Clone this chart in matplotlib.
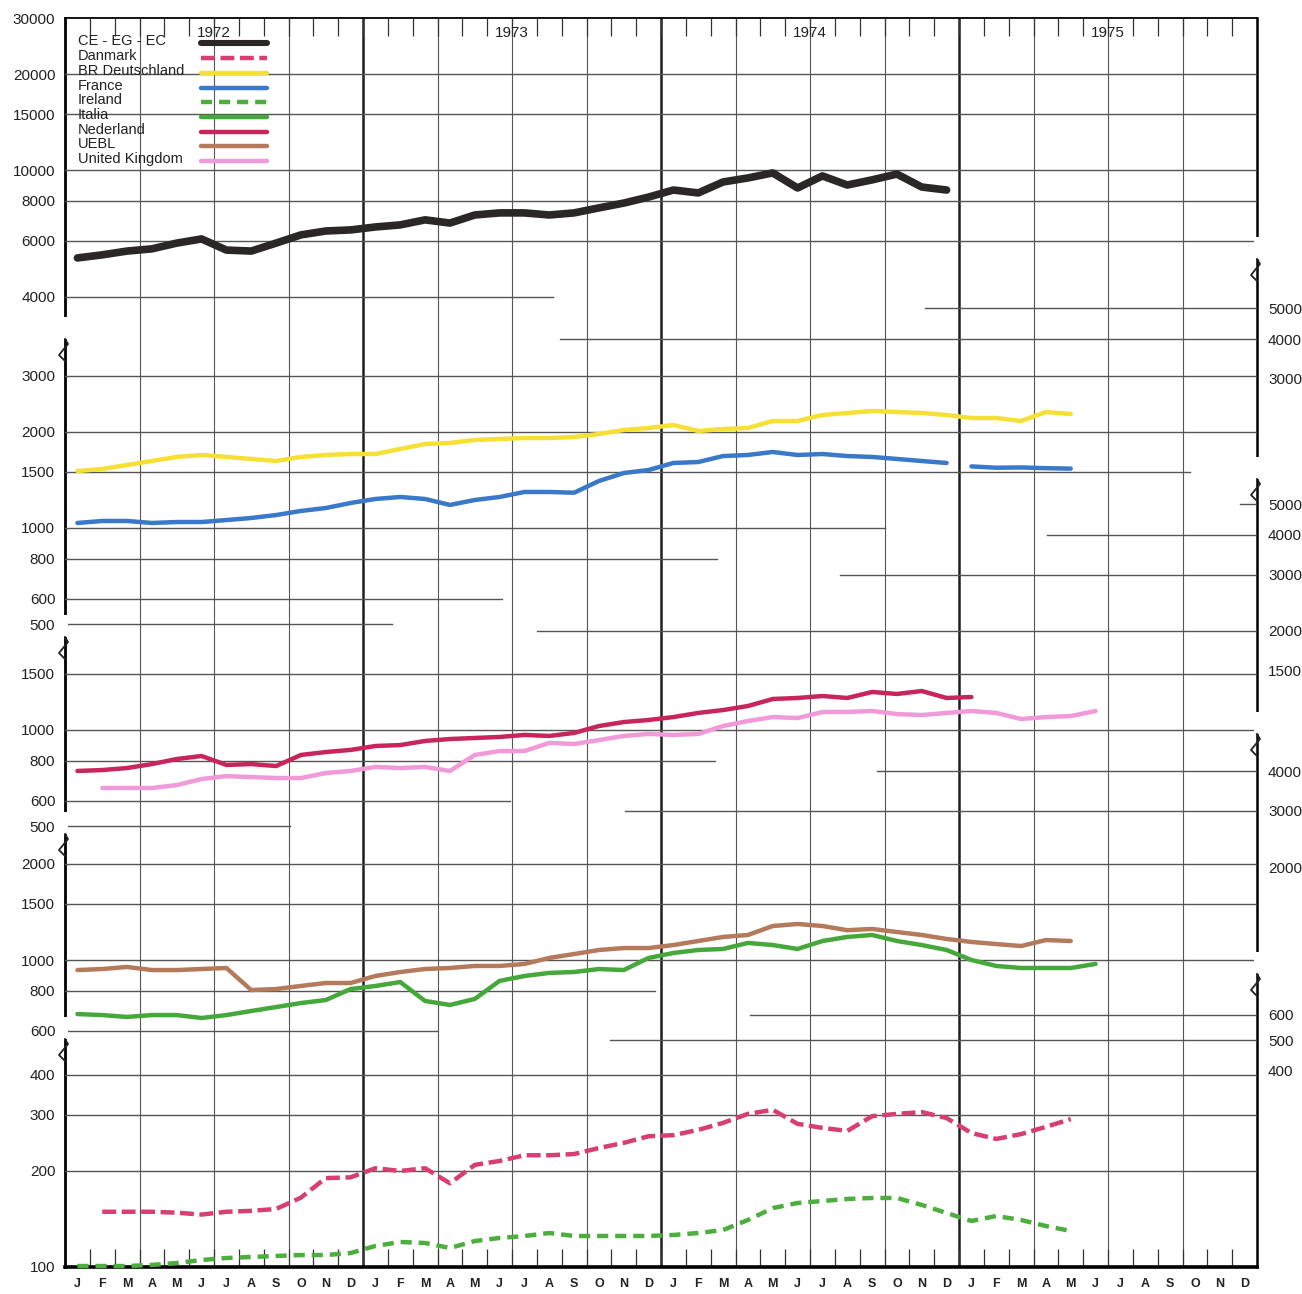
import numpy as np
import matplotlib
matplotlib.use('Agg')
import matplotlib.pyplot as plt
from matplotlib.lines import Line2D
from matplotlib.patches import Rectangle
from matplotlib.ticker import NullLocator, NullFormatter

plt.rcParams['font.family'] = ['Liberation Sans', 'DejaVu Sans']
plt.rcParams['lines.scale_dashes'] = False

# monthly values, Jan 1972 = month 0
months = list('JFMAMJJASOND') * 4
years = ['1972', '1973', '1974', '1975']

ce = [5290, 5410, 5560, 5650, 5890, 6070, 5600, 5560, 5890, 6250, 6430, 6480,
      6620, 6720, 6970, 6810, 7220, 7330, 7330, 7220, 7330, 7600, 7870, 8220,
      8650, 8470, 9170, 9440, 9790, 8780, 9580, 8970, 9310, 9710, 8840, 8650]
brd = [1509, 1531, 1576, 1622, 1670, 1694, 1670, 1646, 1622, 1670, 1694, 1706,
       1706, 1769, 1834, 1848, 1888, 1901, 1915, 1915, 1929, 1971, 2029, 2058,
       2103, 2014, 2043, 2058, 2165, 2165, 2261, 2294, 2327, 2310, 2294, 2261,
       2212, 2212, 2165, 2310, 2278]
france = [1037, 1052, 1052, 1037, 1044, 1044, 1059, 1075, 1098, 1131, 1155, 1198,
          1233, 1251, 1233, 1181, 1224, 1251, 1297, 1297, 1290, 1404, 1487, 1520,
          1599, 1610, 1681, 1694, 1731, 1694, 1706, 1681, 1670, 1646, 1622, 1599,
          1560, 1545, 1548, 1540, 1535]
france_gap = 36  # line broken before this month
nederland = [744, 749, 760, 782, 811, 829, 777, 782, 771, 835, 853, 866,
             891, 897, 924, 937, 944, 951, 965, 958, 979, 1029, 1059, 1075,
             1098, 1131, 1155, 1189, 1251, 1260, 1278, 1260, 1316, 1297, 1325, 1260,
             1269]
uk_start = 1
uk = [658, 658, 658, 672, 702, 717, 712, 707, 707, 733, 744,
      766, 760, 766, 744, 835, 859, 859, 911, 904, 930, 958, 972,
      965, 972, 1029, 1067, 1098, 1090, 1139, 1139, 1147, 1122, 1114, 1131,
      1147, 1131, 1083, 1098, 1106, 1147]
uebl = [930, 937, 951, 930, 930, 937, 944, 805, 811, 829, 847, 847,
        891, 917, 937, 944, 958, 958, 972, 1015, 1044, 1075, 1090, 1090,
        1114, 1147, 1181, 1198, 1278, 1297, 1278, 1240, 1251, 1224, 1198, 1164,
        1139, 1122, 1106, 1155, 1147]
italia = [677, 672, 663, 672, 672, 658, 672, 692, 712, 733, 749, 811,
          829, 853, 744, 723, 755, 860, 891, 911, 917, 937, 930, 1015,
          1052, 1075, 1083, 1131, 1114, 1083, 1147, 1181, 1198, 1147, 1114, 1075,
          1000, 958, 944, 944, 944, 972]
dk_start = 1
danmark = [149, 149, 149, 148, 146, 149, 150, 152, 165, 190, 191,
           204, 200, 204, 183, 209, 215, 224, 224, 226, 236, 245, 257,
           259, 269, 283, 302, 311, 281, 273, 267, 297, 302, 306, 293,
           263, 252, 261, 275, 291]
ireland = [100.7, 100.7, 100.7, 101.5, 102.9, 105.2, 106.7, 107.5, 108.3, 109.0, 109.0, 110.6,
           116.4, 119.8, 118.9, 114.7, 120.6, 123.3, 125.1, 127.8, 125.1, 125.1, 125.1, 125.1,
           126.0, 127.8, 130.6, 140.4, 153.0, 158.7, 161.0, 163.4, 164.6, 164.6, 156.5, 147.7,
           139.4, 144.5, 140.4, 134.4, 129.7]

names = ['CE - EG - EC', 'Danmark', 'BR Deutschland', 'France', 'Ireland',
         'Italia', 'Nederland', 'UEBL', 'United Kingdom']
colors = {'CE - EG - EC': '#2b2727', 'Danmark': '#d83d73', 'BR Deutschland': '#f6e035',
          'France': '#3a78c9', 'Ireland': '#4cae3c', 'Italia': '#46a83a',
          'Nederland': '#c8255c', 'UEBL': '#b57a5c', 'United Kingdom': '#f09ad9'}
widths = {'CE - EG - EC': 5.5}
dashes = {'Danmark': (10, 4), 'Ireland': (8, 5)}

W, H = 1302, 1294
L, R, T, B = 65, 1257, 18, 1267
fig = plt.figure(figsize=(W / 100, H / 100), dpi=100)
fig.patch.set_facecolor('white')


def add_ax(yt, yb):
    return fig.add_axes([L / W, 1 - yb / H, (R - L) / W, (yb - yt) / H])


def fig_xy(x, y):
    return x / W, 1 - y / H


# frame with month grid
frame = add_ax(T, B)
frame.set_xlim(0, 48)
frame.set_ylim(0, 1)
frame.set_yticks([])
frame.set_xticks(np.arange(48) + 0.5)
frame.set_xticklabels(months, fontsize=9, fontweight='bold', color='#222')
frame.tick_params(axis='x', which='major', length=0, pad=8)
frame.set_xticks(np.arange(1, 48), minor=True)
frame.tick_params(axis='x', which='minor', direction='in', length=13,
                  width=0.9, top=True, bottom=True, color='#333')
for q in range(3, 48, 3):
    if q % 12 == 0:
        frame.axvline(q, color='#1e1e1e', lw=1.8, zorder=1)
    else:
        frame.axvline(q, color='#555', lw=0.8, zorder=1)
frame.spines['left'].set_linewidth(2.0)
frame.spines['bottom'].set_linewidth(2.6)
frame.spines['top'].set_linewidth(1.3)
frame.spines['right'].set_linewidth(1.8)
for i, yr in enumerate(years):
    frame.text(12 * i + 6, 1 - (33 - T) / (B - T), yr, ha='center', va='center',
               fontsize=11, color='#222', transform=frame.get_xaxis_transform())


def log_lims(v0, y0, yt, yb, k=319):
    return v0 * 10 ** ((y0 - yb) / k), v0 * 10 ** ((y0 - yt) / k)


def panel(yt, yb, v0, y0, grid, k=319, right=False):
    ax = add_ax(yt, yb)
    ax.set_yscale('log')
    ax.set_ylim(*log_lims(v0, y0, yt, yb, k))
    ax.set_xlim(0, 48)
    ax.patch.set_alpha(0)
    for s in ax.spines.values():
        s.set_visible(False)
    ax.set_xticks([])
    vals = [g[0] for g in grid]
    ax.set_yticks(vals)
    ax.set_yticklabels([str(v) for v in vals])
    ax.yaxis.set_minor_locator(NullLocator())
    ax.yaxis.set_minor_formatter(NullFormatter())
    ax.tick_params(axis='y', length=0, pad=7, labelsize=11, colors='#222')
    if right:
        ax.yaxis.tick_right()
        ax.tick_params(axis='y', pad=8)
    for v, x0, x1 in grid:
        if x0 is not None:
            ax.axhline(v, xmin=(x0 - L) / (R - L), xmax=(x1 - L) / (R - L),
                       color='#555', lw=1.0, zorder=1)
    return ax


# left panels: (value, grid x start, grid x end)
p1 = panel(T, 350, 10000, 170, [(30000, None, None), (20000, L, R), (15000, L, R),
                                (10000, L, R), (8000, L, R), (6000, L, R),
                                (4000, L, 553)], k=318)
p2 = panel(350, 648, 1000, 528, [(3000, L, R), (2000, L, R), (1500, L, 1190),
                                 (1000, L, 885), (800, L, 717), (600, L, 502),
                                 (500, L, 392)])
p3 = panel(648, 845, 1000, 730, [(1500, L, R), (1000, L, R), (800, L, 715),
                                 (600, L, 510), (500, L, 290)])
p4 = panel(845, 1050, 1000, 960, [(2000, L, R), (1500, L, R), (1000, L, R),
                                  (800, L, 655), (600, L, 437)])
p5 = panel(1050, B, 100, B, [(400, L, R), (300, L, R), (200, L, R), (100, None, None)])

# right-hand scales
panel(270, 490, 3000, 379, [(5000, 925, R), (4000, 560, R), (3000, None, None)], right=True)
panel(490, 745, 2000, 631, [(5000, 1240, R), (4000, 1047, R), (3000, 840, R),
                            (2000, 537, R), (1500, None, None)], right=True)
panel(745, 985, 3000, 811, [(4000, 877, R), (3000, 625, R), (2000, None, None)], right=True)
panel(985, B, 500, 1040, [(600, 750, R), (500, 610, R), (400, None, None)], right=True)


def draw(ax, name, vals, start=0):
    x = np.arange(start, start + len(vals)) + 0.5
    kw = dict(color=colors[name], lw=widths.get(name, 3.2), solid_capstyle='round',
              solid_joinstyle='round', clip_on=False, zorder=3)
    if name in dashes:
        kw['dashes'] = dashes[name]
    ax.plot(x, vals, **kw)


draw(p1, 'CE - EG - EC', ce)
draw(p2, 'BR Deutschland', brd)
draw(p2, 'France', france[:france_gap])
draw(p2, 'France', france[france_gap:], start=france_gap)
draw(p3, 'Nederland', nederland)
draw(p3, 'United Kingdom', uk, start=uk_start)
draw(p4, 'UEBL', uebl)
draw(p4, 'Italia', italia)
draw(p5, 'Danmark', danmark, start=dk_start)
draw(p5, 'Ireland', ireland)

# legend, text on the left and samples on the right
leg_y = [41, 56, 71, 86, 100, 115, 130, 144, 159]
for name, y in zip(names, leg_y):
    fx, fy = fig_xy(78, y)
    fig.text(fx, fy, name, fontsize=10.5, color='#222', va='center', ha='left')
    x0, yy = fig_xy(201, y + 2)
    x1, _ = fig_xy(267, y + 2)
    kw = dict(color=colors[name], lw=widths.get(name, 3.2) * (0.8 if name == 'CE - EG - EC' else 1),
              solid_capstyle='round', transform=fig.transFigure)
    if name in dashes:
        kw['dashes'] = dashes[name]
    fig.add_artist(Line2D([x0, x1], [yy, yy], **kw))


# axis breaks
def zigzag(x, y):
    ax0, ay0 = fig_xy(x - 3, y - 11)
    fig.add_artist(Rectangle((ax0, ay0), 6 / W, 22 / H, transform=fig.transFigure,
                             facecolor='white', edgecolor='none', zorder=5))
    pts = [(x, y - 11), (x + 3, y - 6), (x - 6, y + 5), (x, y + 11)]
    xs, ys = zip(*[fig_xy(px, py) for px, py in pts])
    fig.add_artist(Line2D(xs, ys, color='#222', lw=1.3, transform=fig.transFigure, zorder=6))


for yb in [350, 648, 845, 1050]:
    zigzag(L, yb)
for yb in [270, 490, 745, 985]:
    zigzag(R, yb)

fig.savefig('out.png', dpi=100, facecolor='white')
